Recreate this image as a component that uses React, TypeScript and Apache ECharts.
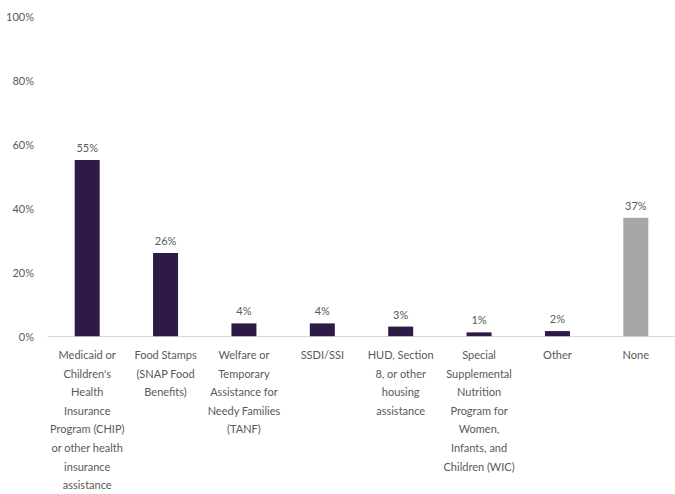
import React, { useEffect, useRef } from "react";
import * as echarts from "echarts";

const categories = [
  "Medicaid or\nChildren's\nHealth\nInsurance\nProgram (CHIP)\nor other health\ninsurance\nassistance",
  "Food Stamps\n(SNAP Food\nBenefits)",
  "Welfare or\nTemporary\nAssistance for\nNeedy Families\n(TANF)",
  "SSDI/SSI",
  "HUD, Section\n8, or other\nhousing\nassistance",
  "Special\nSupplemental\nNutrition\nProgram for\nWomen,\nInfants, and\nChildren (WIC)",
  "Other",
  "None",
];
const values = [55, 26, 4, 4, 3, 1.2, 1.6, 37];
const barColors = ["#2d1a47", "#2d1a47", "#2d1a47", "#2d1a47", "#2d1a47", "#2d1a47", "#2d1a47", "#a6a6a6"];
const yTicks = [0, 20, 40, 60, 80, 100];

export default function App() {
  const ref = useRef<HTMLDivElement>(null);
  useEffect(() => {
    const chart = echarts.init(ref.current!, null, { renderer: "svg" });
    const font = "Lato, 'Noto Sans', sans-serif";
    chart.setOption({
      animation: false,
      grid: { left: 48, right: 0, top: 16, bottom: 154, containLabel: false },
      xAxis: {
        type: "category",
        data: categories,
        axisLine: { lineStyle: { color: "#d9d9d9", width: 1 } },
        axisTick: { show: false },
        axisLabel: {
          interval: 0,
          color: "#595959",
          fontSize: 11,
          fontFamily: font,
          lineHeight: 18.6,
          margin: 9,
          verticalAlign: "top",
        },
      },
      yAxis: {
        type: "value",
        min: yTicks[0],
        max: yTicks[yTicks.length - 1],
        interval: 20,
        splitLine: { show: false },
        axisLine: { show: false },
        axisTick: { show: false },
        axisLabel: {
          color: "#595959",
          fontSize: 11,
          fontFamily: font,
          margin: 14,
          formatter: (v: number) => v + "%",
        },
      },
      series: [
        {
          type: "bar",
          barWidth: 25,
          data: values.map((v, i) => ({ value: v, itemStyle: { color: barColors[i] } })),
          label: {
            show: true,
            position: "top",
            distance: 7,
            color: "#595959",
            fontSize: 11,
            fontFamily: font,
            formatter: (p: any) => Math.round(p.value) + "%",
          },
        },
      ],
    });
    return () => chart.dispose();
  }, []);
  return <div ref={ref} style={{ width: 675, height: 494, position: "absolute", left: 0, top: 0 }} />;
}
